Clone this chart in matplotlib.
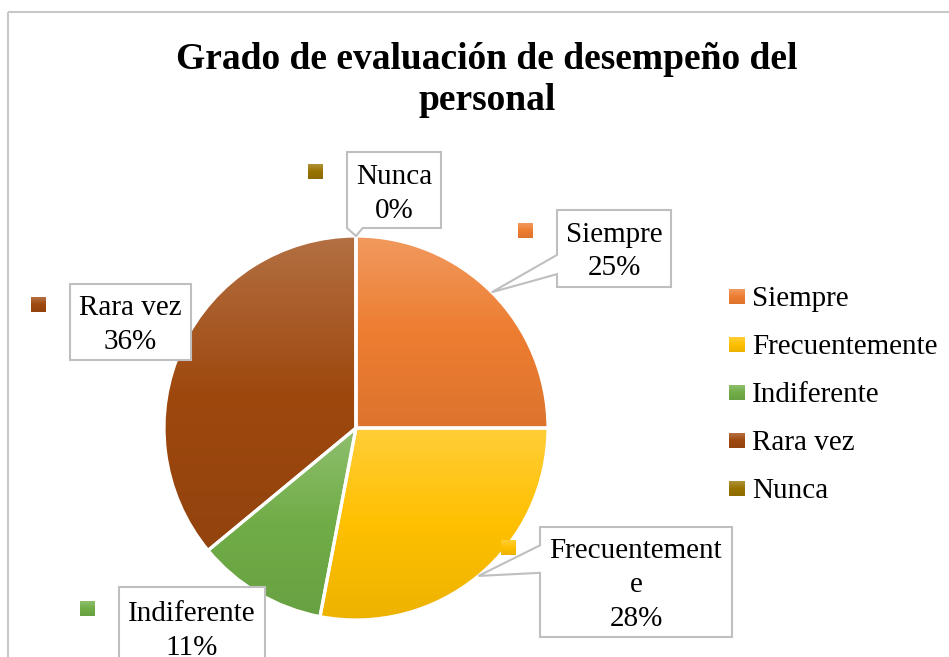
import matplotlib
matplotlib.use('Agg')
import matplotlib.pyplot as plt
import numpy as np
from matplotlib.patches import Rectangle, Polygon
from matplotlib.colors import to_rgb

# ---------------- data ----------------
categories = ['Siempre', 'Frecuentemente', 'Indiferente', 'Rara vez', 'Nunca']
percentages = [25, 28, 11, 36, 0]
label_lines = [['Siempre', '25%'],
               ['Frecuentement', 'e', '28%'],
               ['Indiferente', '11%'],
               ['Rara vez', '36%'],
               ['Nunca', '0%']]
colors = ['#ED7D31', '#FFC000', '#70AD47', '#9E480E', '#997300']
title_lines = ['Grado de evaluación de desempeño del', 'personal']

# ---------------- layout ----------------
W, H = 949, 657
plt.rcParams['font.family'] = ['Liberation Serif', 'DejaVu Serif']
fig = plt.figure(figsize=(W / 100, H / 100), dpi=100)


def grad(c, n=256):
    base = np.array(to_rgb(c))
    top = base + (1 - base) * 0.22
    bot = base * 0.93
    t = np.linspace(0, 1, n)[:, None]
    g = np.where(t < 0.5, top + (base - top) * (t / 0.5), base + (bot - base) * ((t - 0.5) / 0.5))
    return g[:, None, :]


cx, cy, R = 356, 428, 192
ax = fig.add_axes([(cx - R) / W, (H - cy - R) / H, 2 * R / W, 2 * R / H])
wedges, _ = ax.pie(percentages, startangle=90, counterclock=False, colors=colors,
                   radius=1, wedgeprops=dict(edgecolor='white', linewidth=2.3))
for w, c, v in zip(wedges, colors, percentages):
    if v <= 0:
        continue
    ext = w.get_path().get_extents()
    im = ax.imshow(grad(c), extent=(ext.x0, ext.x1, ext.y0, ext.y1), origin='upper',
                   aspect='auto', zorder=0.9, interpolation='bilinear')
    im.set_clip_path(w)
    w.set_facecolor('none')
ax.set_xlim(-1, 1)
ax.set_ylim(-1, 1)
ax.set_aspect('equal')
ax.axis('off')

ov = fig.add_axes([0, 0, 1, 1])
ov.set_xlim(0, W)
ov.set_ylim(H, 0)
ov.axis('off')
ov.patch.set_visible(False)

# chart border
ov.add_patch(Rectangle((8, 12), W + 20, H + 20, facecolor='none', edgecolor='#C8C8C8',
                       lw=1.5, clip_on=False))

# title
for i, t in enumerate(title_lines):
    ov.text(487, 57 + 41 * i + 12, t, ha='center', va='baseline', fontsize=27,
            fontweight='bold', color='black')


def tip(i):
    w = wedges[i]
    a = np.deg2rad((w.theta1 + w.theta2) / 2)
    p = ax.transData.transform((np.cos(a), np.sin(a)))
    return ov.transData.inverted().transform(p)


# box: x0, y0, x1, y1, tail side, tail base fractions, text centre y, key (left, top)
boxes = [
    (557, 210, 671, 287, 'left', (7 / 12, 10 / 12), 248.5, (518, 223)),
    (540, 527, 732, 637, 'left', (2 / 12, 5 / 12), 582, (501, 540)),
    (119, 587, 265, 669, None, None, 628, (80, 601)),
    (70, 284, 191, 360, None, None, 322, (31, 297)),
    (347, 152, 441, 228, 'bottom', (0, 2 / 12), 191, (308, 164)),
]

pitch = 33.5
for i, (x0, y0, x1, y1, side, fr, tcy, key) in enumerate(boxes):
    bw, bh = x1 - x0, y1 - y0
    if side == 'left':
        tx, ty = tip(i)
        verts = [(x0, y0), (x1, y0), (x1, y1), (x0, y1),
                 (x0, y0 + bh * fr[1]), (tx, ty), (x0, y0 + bh * fr[0])]
    elif side == 'bottom':
        tx, ty = tip(i)
        verts = [(x0, y0), (x1, y0), (x1, y1), (x0 + bw * fr[1], y1), (tx, ty),
                 (x0 + bw * fr[0], y1)]
    else:
        verts = [(x0, y0), (x1, y0), (x1, y1), (x0, y1)]
    ov.add_patch(Polygon(verts, closed=True, facecolor='white', edgecolor='#BFBFBF',
                         lw=1.5, joinstyle='miter', zorder=3, clip_on=False))
    lines = label_lines[i]
    n = len(lines)
    for j, ln in enumerate(lines):
        yc = tcy + (j - (n - 1) / 2) * pitch
        ov.text((x0 + x1) / 2, yc + 10, ln, ha='center', va='baseline', fontsize=21,
                color='black', zorder=4)
    kx, ky = key
    ov.imshow(grad(colors[i]), extent=(kx, kx + 15, ky + 15, ky), origin='upper',
              aspect='auto', zorder=4)

# legend
for i, (cat, c) in enumerate(zip(categories, colors)):
    yc = 296.5 + 48 * i
    ov.imshow(grad(c), extent=(729, 745, yc + 7.5, yc - 7.5), origin='upper',
              aspect='auto', zorder=4)
    ov.text(752, yc + 10, cat, ha='left', va='baseline', fontsize=21, color='black', zorder=4)

ov.set_xlim(0, W)
ov.set_ylim(H, 0)

fig.savefig('out.png', dpi=100)
